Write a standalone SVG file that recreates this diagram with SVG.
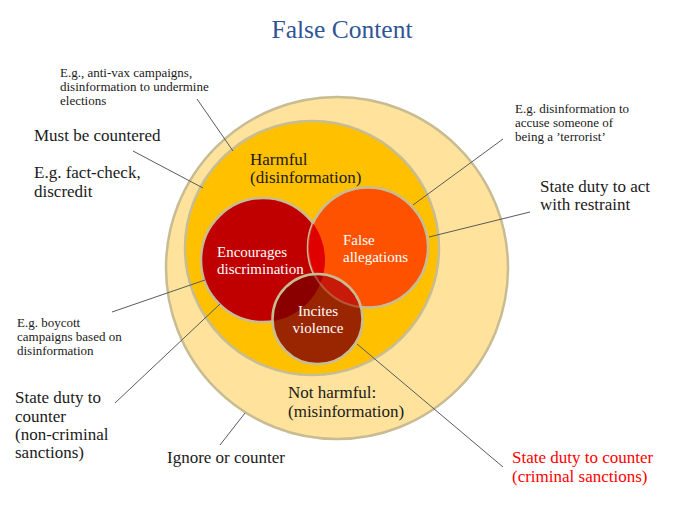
<svg xmlns="http://www.w3.org/2000/svg" width="693" height="508" viewBox="0 0 693 508">
<style>
text{font-family:"Liberation Serif","Times New Roman",serif;fill:#1a1a1a}
.title{font-size:25.5px;fill:#2F5597;text-anchor:middle}
.big{font-size:17px}
.small{font-size:13px}
.inner{font-size:15px;fill:#ffffff}
.ring{stroke:#C8BC93;stroke-width:2.5}
.ln{stroke:#5a5a5a;stroke-width:1;fill:none}
</style>
<defs>
<clipPath id="cD"><circle cx="263" cy="260" r="62"/></clipPath>
<clipPath id="cF"><circle cx="368" cy="247.5" r="60"/></clipPath>
</defs>
<rect width="693" height="508" fill="#ffffff"/>
<text class="title" x="342" y="38">False Content</text>

<g id="outer">
<circle class="ring" cx="337" cy="268" r="171" fill="#FFE39C"/>
</g>
<g id="harmful">
<circle class="ring" cx="312" cy="248" r="127" fill="#FFC000"/>
<text class="big" x="250" y="165">Harmful</text>
<text class="big" x="250" y="183">(disinformation)</text>
</g>
<g id="discrimination">
<circle class="ring" cx="263" cy="260" r="62" fill="#C00000"/>
</g>
<g id="allegations">
<circle class="ring" cx="368" cy="247.5" r="60" fill="#FF5200"/>
<circle cx="368" cy="247.5" r="60" fill="#E00000" clip-path="url(#cD)"/>
</g>
<g id="violence">
<circle cx="317.5" cy="319" r="45" fill="#992600"/>
<circle cx="317.5" cy="319" r="45" fill="#8A0000" clip-path="url(#cD)"/>
<circle cx="317.5" cy="319" r="45" fill="#C81A08" clip-path="url(#cF)"/>
<g clip-path="url(#cD)"><circle cx="317.5" cy="319" r="45" fill="#A80000" clip-path="url(#cF)"/></g>
<circle cx="368" cy="247.5" r="60" fill="none" stroke="#C8BC93" stroke-width="2" opacity="0.35"/>
<circle class="ring" cx="317.5" cy="319" r="45" fill="none"/>
</g>
<g id="labels-inner">
<text class="inner" x="217" y="257">Encourages</text>
<text class="inner" x="217" y="274">discrimination</text>
<text class="inner" x="343" y="245">False</text>
<text class="inner" x="343" y="262">allegations</text>
<text class="inner" x="318" y="316" text-anchor="middle">Incites</text>
<text class="inner" x="318" y="333" text-anchor="middle">violence</text>
</g>
<g id="notharmful">
<text class="big" x="288" y="398">Not harmful:</text>
<text class="big" x="288" y="417">(misinformation)</text>
</g>

<g id="connectors">
<line class="ln" x1="197" y1="99" x2="233" y2="151"/>
<line class="ln" x1="133" y1="151" x2="203" y2="188"/>
<line class="ln" x1="503" y1="139" x2="413" y2="205"/>
<line class="ln" x1="530" y1="212" x2="429" y2="237"/>
<line class="ln" x1="112" y1="312" x2="205" y2="280"/>
<line class="ln" x1="115" y1="403" x2="220" y2="304"/>
<line class="ln" x1="220" y1="445" x2="245" y2="413"/>
<line class="ln" x1="357" y1="344" x2="503" y2="467"/>
</g>

<g id="label-antivax">
<text class="small" x="60" y="77">E.g., anti-vax campaigns,</text>
<text class="small" x="60" y="91">disinformation to undermine</text>
<text class="small" x="60" y="105">elections</text>
</g>
<g id="label-countered">
<text class="big" x="34" y="141">Must be countered</text>
<text class="big" x="34" y="178">E.g. fact-check,</text>
<text class="big" x="34" y="197">discredit</text>
</g>
<g id="label-terrorist">
<text class="small" x="515" y="113">E.g. disinformation to</text>
<text class="small" x="515" y="127">accuse someone of</text>
<text class="small" x="515" y="141">being a ’terrorist’</text>
</g>
<g id="label-restraint">
<text class="big" x="540" y="192">State duty to act</text>
<text class="big" x="540" y="210">with restraint</text>
</g>
<g id="label-boycott">
<text class="small" x="17" y="327">E.g. boycott</text>
<text class="small" x="17" y="341">campaigns based on</text>
<text class="small" x="17" y="355">disinformation</text>
</g>
<g id="label-noncriminal">
<text class="big" x="15" y="403">State duty to</text>
<text class="big" x="15" y="422">counter</text>
<text class="big" x="15" y="440">(non-criminal</text>
<text class="big" x="15" y="458">sanctions)</text>
</g>
<g id="label-ignore">
<text class="big" x="167" y="463">Ignore or counter</text>
</g>
<g id="label-criminal">
<text class="big" x="512" y="463" style="fill:#FF0000">State duty to counter</text>
<text class="big" x="512" y="482" style="fill:#FF0000">(criminal sanctions)</text>
</g>
</svg>
